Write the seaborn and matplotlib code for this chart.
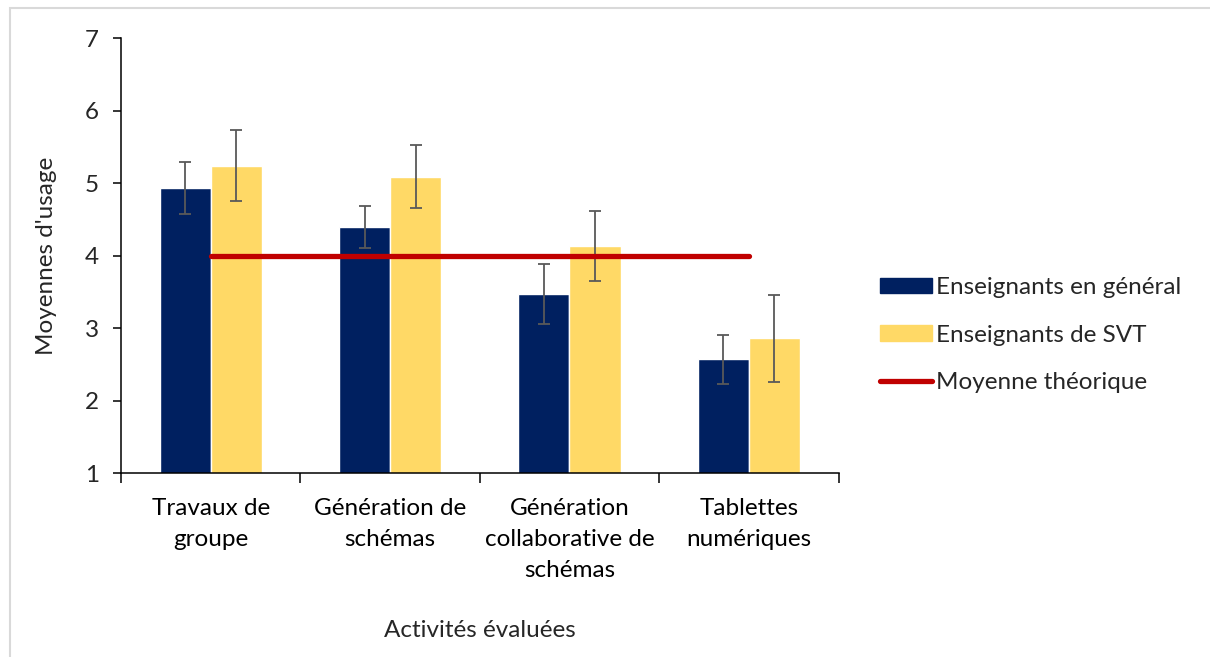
import numpy as np
import pandas as pd
import matplotlib
matplotlib.use("Agg")
import matplotlib.pyplot as plt
import seaborn as sns
from matplotlib.patches import Rectangle

# données
activites = ["Travaux de\ngroupe", "Génération de\nschémas",
             "Génération\ncollaborative de\nschémas", "Tablettes\nnumériques"]
series = ["Enseignants en général", "Enseignants de SVT"]
moy_general = [4.93, 4.40, 3.47, 2.57]
moy_svt = [5.24, 5.09, 4.13, 2.86]
err_general = [0.36, 0.29, 0.42, 0.34]
err_svt = [0.49, 0.44, 0.48, 0.60]
moy_theorique = [4, 4, 4, 4]

FS = 17.5

sns.set_theme(style="white")
plt.rcParams["font.family"] = ["Lato", "DejaVu Sans"]

df = pd.DataFrame({
    "activite": activites * 2,
    "serie": [series[0]] * 4 + [series[1]] * 4,
    "moyenne": moy_general + moy_svt,
})

fig = plt.figure(figsize=(12.1, 6.57), dpi=100)
ax = fig.add_axes([0.1, 0.28, 0.593, 0.662])

sns.barplot(data=df, x="activite", y="moyenne", hue="serie",
            palette=["#002060", "#FFD966"], width=0.57, gap=0,
            errorbar=None, saturation=1, ax=ax, legend=False)

# barres d'erreur au centre des barres
errs = err_general + err_svt
vals = moy_general + moy_svt
for p, v, e in zip(ax.patches, vals, errs):
    xc = p.get_x() + p.get_width() / 2
    ax.errorbar(xc, v, yerr=e, color="#595959", capsize=4.5,
                elinewidth=1.3, capthick=1.3, zorder=3)

ax.plot(range(4), moy_theorique, color="#C00000", lw=3.8,
        solid_capstyle="round", zorder=4, label="Moyenne théorique")

ax.set_ylim(1, 7)
ax.set_xlim(-0.5, 3.5)
ax.set_yticks(range(1, 8))
ax.set_xticks(np.arange(-0.5, 4, 1))
ax.set_xticklabels([])
ax.set_xticks(range(4), minor=True)
ax.set_xticklabels(activites, minor=True, fontsize=FS, color="#000000",
                   linespacing=1.6)
ax.tick_params(axis="x", which="major", direction="out", length=7,
               width=1.1, color="black", bottom=True)
ax.tick_params(axis="x", which="minor", length=0, pad=18)
ax.tick_params(axis="y", direction="out", length=6, width=1.1,
               color="black", left=True, labelsize=FS, pad=10)

for s in ["top", "right"]:
    ax.spines[s].set_visible(False)
for s in ["left", "bottom"]:
    ax.spines[s].set_color("black")
    ax.spines[s].set_linewidth(1.1)

ax.set_xlabel("Activités évaluées", fontsize=FS, labelpad=28)
ax.set_ylabel("Moyennes d'usage", fontsize=FS, labelpad=20)

handles = [Rectangle((0, 0), 1, 1, color="#002060"),
           Rectangle((0, 0), 1, 1, color="#FFD966"),
           ax.lines[-1]]
fig.legend(handles, series + ["Moyenne théorique"], loc="center left",
           bbox_to_anchor=(0.709, 0.49), frameon=False, fontsize=FS,
           handlelength=2.15, handleheight=0.6, handletextpad=0.15,
           labelspacing=1.08)

# cadre gris autour du graphique
fig.patches.append(Rectangle((10 / 1210, -0.1), 1.2, 0.988 + 0.1,
                             transform=fig.transFigure, fill=False,
                             edgecolor="#d9d9d9", lw=1.5))

fig.savefig("out.png", dpi=100)
